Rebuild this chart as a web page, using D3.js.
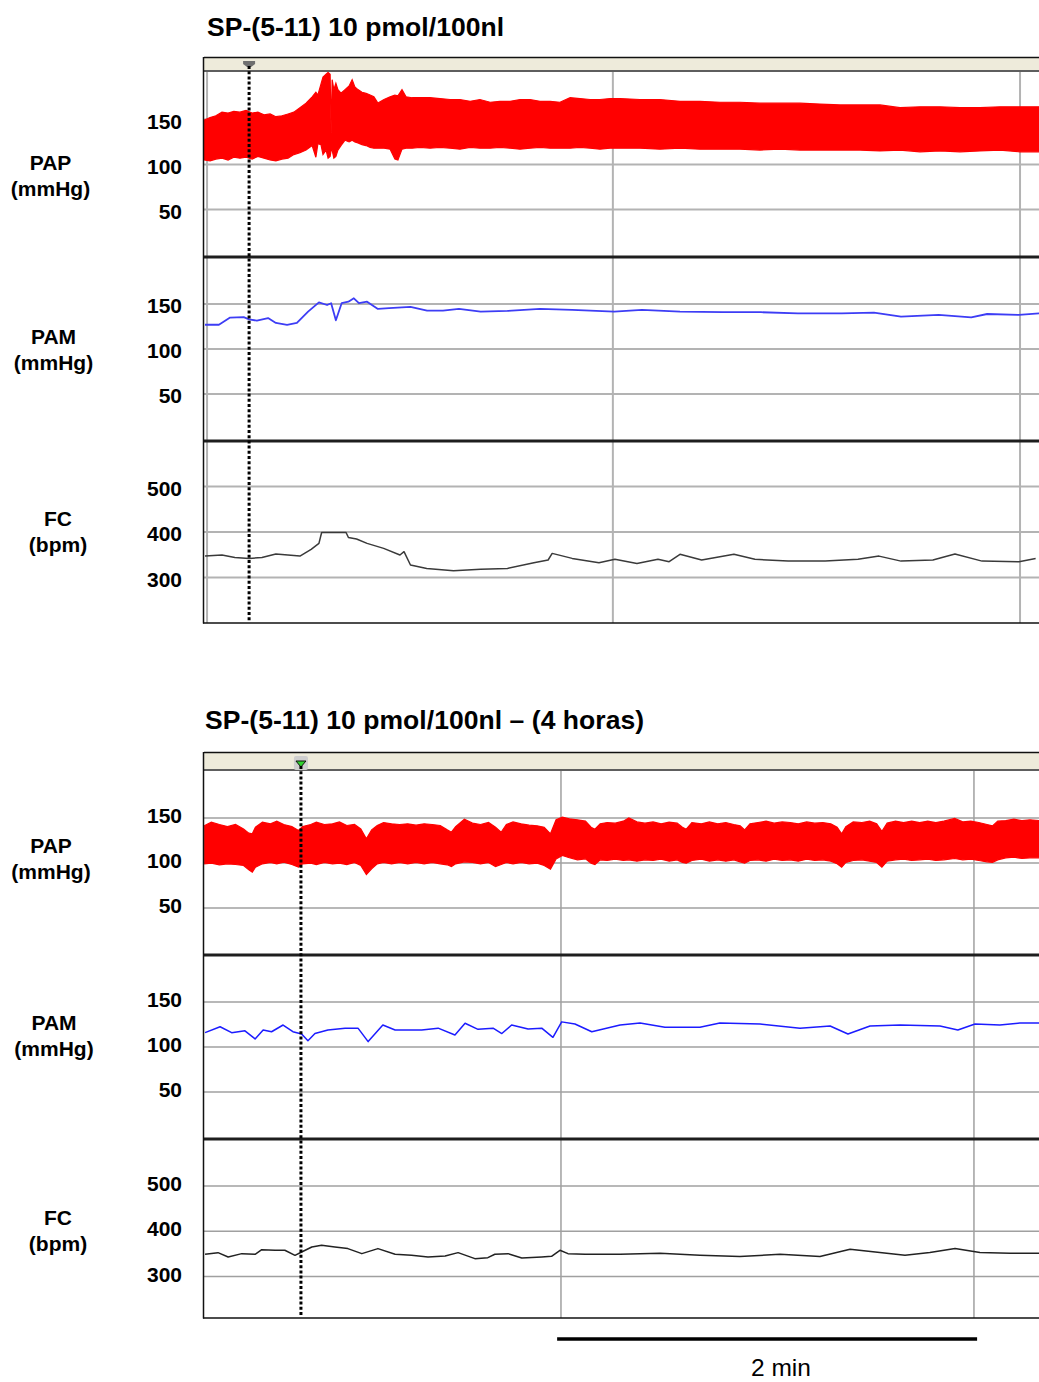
<!DOCTYPE html>
<html>
<head>
<meta charset="utf-8">
<script src="https://cdn.jsdelivr.net/npm/d3@7"></script>
<style>
  body { margin: 0; background: #fff; }
  svg { display: block; }
  text { font-family: "Liberation Sans", Arial, Helvetica, sans-serif; }
</style>
</head>
<body>
<svg id="chart" width="1039" height="1382"></svg>
<script>
// ---------- Recording titles and axis labels ----------
const titles = ["SP-(5-11) 10 pmol/100nl", "SP-(5-11) 10 pmol/100nl \u2013 (4 horas)"];
const stripNames = [["PAP", "(mmHg)"], ["PAM", "(mmHg)"], ["FC", "(bpm)"]];
const pressureTicks = [50, 100, 150];
const rateTicks = [300, 400, 500];
const scaleBarLabel = "2 min";
const scaleBarSeconds = 120;

// ---------- Recording 1 (injection) : time in s ----------
const papTime1 = [0,1.8,3.5,5.3,7.1,8.8,10.6,12.4,14.2,15.9,17.7,19.5,21.2,23.0,24.8,26.5,28.3,30.1,31.9,33.0,33.6,34.5,35.1,36.0,36.6,37.2,37.5,37.8,38.3,38.9,39.5,40.4,41.6,42.8,43.7,44.5,45.4,46.6,47.8,49.0,50.1,51.3,53.1,54.9,56.3,57.2,58.4,59.6,61.4,63.7,66.7,69.6,72.6,75.5,78.5,81.4,84.4,87.3,90.3,93.2,96.2,99.1,102.1,105.0,108.0,110.9,113.9,116.8,119.8,122.7,128.6,134.5,140.4,146.3,152.2,158.1,164.0,169.9,175.8,181.7,187.6,193.5,199.4,205.3,211.2,217.1,223.0,228.9,234.8,240.7,246.6];
const papSys1 = [149,152,154,158,157,159,158,160,157,158,155,156,153,154,156,158,163,168,175,180,177,189,197,200,202,200,135,194,183,190,183,179,183,187,194,186,183,180,179,177,175,168,172,175,177,176,183,175,174,174,174,173,172,172,170,172,169,170,170,172,172,170,170,169,174,173,172,172,173,173,172,172,170,170,169,169,168,168,168,167,166,166,166,163,164,164,163,163,164,164,164];
const papDia1 = [105,104,106,107,105,108,107,108,106,109,107,105,104,106,107,111,113,116,121,108,123,122,111,116,107,109,116,116,107,109,116,121,127,125,127,125,124,122,121,119,118,118,118,117,106,105,117,118,118,119,118,119,118,117,119,118,118,119,118,117,118,119,118,118,118,119,118,117,118,118,118,117,118,117,117,117,116,117,116,116,116,116,115,116,114,115,114,115,116,114,114];

const pamTime1 = [0.3,4.4,7.7,11.7,13.3,15.6,18.9,21.2,24.5,27.4,30.7,33.9,36.3,37.5,38.9,40.6,42.6,44.2,45.7,48.1,51.3,54.6,60.9,65.8,70.5,75.2,81.6,89.5,99.1,108.6,121,129.2,140.4,153.1,164.3,175.2,188.1,197.6,205.6,216.7,226.3,231,240.4,246.6];
const pamValue1 = [127,127,135,135.5,133,131.6,134.5,129,127,129,141.6,152,149,151,132,151,152.7,156.5,151,152.7,144.6,145.6,147,142.7,142.7,144.6,141.6,142.4,144.6,143.5,141.6,143.5,141.6,141,141,139.8,139.8,140.5,136,138,135.3,139,138,139.8];

const fcTime1 = [0.3,5.3,9.1,13.3,17.1,21.2,28.3,31.6,33.9,34.7,41.9,42.6,45,48.1,53,57.8,59,60.9,65.7,73.6,81.6,89.5,97.3,101.5,102.7,108.6,116.5,121.2,127.7,133.9,137.2,140.4,146.8,156.3,162.5,172.3,183.2,192.9,199.1,205.6,215,221.5,229.5,240.4,245.3];
const fcValue1 = [347,349.5,344,342,344,351.6,347,362,375,399,399,388,384.6,375,364,349.5,356.7,327.5,320,315,318,320,332.5,338.5,353,342,332.5,340,331,340,334.7,351,338.5,351,340,336,336,340,347,336,338.5,351.6,336,334.7,342];

const gridTime1 = [0.9, 120.6, 240.7];
const markerTime1 = 13.3;

// ---------- Recording 2 (4 h later) : time in s ----------
const papTime2 = [0.2,2.1,4.4,6.7,9.0,11.3,12.8,13.8,14.7,16.7,19.0,20.8,22.8,25.1,27.0,28.2,30.5,32.1,34.4,36.7,38.7,40.8,43.0,44.8,46.4,47.9,49.5,51.3,53.6,55.9,58.2,60.6,62.9,65.2,67.5,69.5,70.7,71.9,74.4,76.7,79.0,81.3,83.3,84.9,86.4,88.3,90.6,92.9,95.2,97.2,99.0,100.6,102.4,104.4,106.7,109.0,110.6,111.7,113.2,115.2,117.5,119.8,121.4,123.7,126.0,128.3,130.6,132.9,135.2,136.7,137.8,139.4,142.1,144.4,146.8,149.1,151.4,153.2,154.5,156.0,158.3,160.6,162.9,165.2,167.5,169.8,172.2,174.5,176.8,179.1,180.9,182.2,183.4,185.5,188.0,190.2,192.2,193.7,195.2,197.6,199.9,202.2,204.5,206.8,209.1,211.4,214.5,216.8,219.1,221.4,223.7,225.3,226.8,229.1,231.4,233.7,236.0,238.8];
const papSys2 = [141.8,145.5,142.9,140.6,142.9,138.0,133.2,132.5,139.9,145.5,143.6,146.6,142.9,140.6,136.2,140.6,142.9,145.5,142.9,143.6,145.8,141.8,142.9,138.0,126.9,136.9,141.8,145.1,143.6,142.9,143.6,142.1,143.6,142.9,141.8,136.9,134.3,140.6,148.8,144.4,142.9,145.1,139.9,134.3,142.9,145.8,143.6,142.1,141.4,139.9,132.5,148.1,151.0,149.2,148.1,146.6,139.9,137.7,143.6,145.1,144.4,146.6,150.3,145.8,144.4,145.8,143.6,145.5,144.4,139.9,137.7,145.1,143.6,145.8,143.6,145.1,142.9,141.4,136.9,143.6,145.1,146.6,144.4,145.8,145.1,143.6,145.8,144.4,145.1,143.6,139.9,132.5,140.6,145.8,145.1,146.6,143.6,135.4,144.4,146.6,145.1,146.6,145.1,146.6,145.1,146.6,149.6,145.8,146.6,145.1,142.9,141.4,146.6,147.3,148.8,147.3,148.1,147.3];
const papDia2 = [99.1,99.8,98.0,99.1,98.3,97.2,92.4,89.8,95.4,99.1,100.6,99.1,100.9,98.3,95.4,99.1,99.8,98.3,100.6,99.1,99.8,98.3,100.6,97.2,87.2,93.5,99.1,100.6,99.1,100.6,99.1,100.6,99.1,100.6,99.1,98.0,96.1,99.1,101.3,100.6,99.1,100.6,96.1,98.3,100.6,99.1,100.6,99.1,99.8,97.2,93.1,104.6,108.4,105.8,103.5,104.6,99.8,98.3,103.5,102.8,104.3,102.8,103.5,102.0,103.5,102.8,104.3,102.0,103.5,100.6,99.8,102.8,104.3,102.0,103.5,102.0,103.5,101.3,99.8,102.8,103.5,102.0,104.3,102.8,103.5,102.0,104.3,102.8,103.5,102.0,99.1,95.4,100.6,102.8,103.5,102.0,100.6,95.4,102.0,103.5,104.3,102.8,103.5,104.3,102.8,103.5,105.0,103.5,104.3,102.8,101.3,100.6,103.5,105.8,106.5,105.0,105.8,105.8];

const pamTime2 = [0.3,4.6,7.9,11.7,14.6,16.9,19.3,22.6,25.4,27.9,29.7,31.7,35.4,40.3,44,46.9,51.1,54.6,62.2,66.9,71.7,74.6,78.3,82.6,85.1,87.9,92.6,96.5,99.7,102.2,106,110.8,118.9,124.6,131.7,141.7,147.4,158.9,170.3,178.9,184,190.3,198.9,210.3,215.4,220.3,227.4,233.1,238.6];
const pamValue2 = [116,122.6,116,118,109,119,117,124.5,117,114.5,107,115,119,120.8,121,106,124.5,119,119,121,113.4,126.4,119.7,121,115,124.5,120,121,110.8,128,125.6,117,124.5,126.7,122,122,126.7,125.6,121,123.4,114.5,123.4,124.5,123.4,119,125.6,124.5,126.7,126.7];

const fcTime2 = [0.3,4,6.9,10.8,14.6,16.5,20.3,23.1,26,27.9,30.8,33.6,37.4,41.1,45.1,49.7,54.6,59.3,64,68.9,72.6,77.4,81.1,83.1,86.9,90.8,96.5,99.3,101.7,104,108.9,118.9,130.3,141.7,153.1,164.6,176,184.6,193.1,200.3,207.4,214.6,221.7,230.3,238.6];
const fcValue2 = [349,352.6,343,350.4,349,359,358,357.8,346.7,354,365,369,365,361.5,350.4,361.5,349,346.7,343,345,352.6,339.3,341.5,349,350.4,340.7,343,344.4,357.8,350.4,349,349,351,347,344,349,344,360,353,347,353,362,353,351,351];

const gridTime2 = [102, 220];
const markerTime2 = 27.7;
const scaleBarStart2 = 100.9;

// ---------- Layout ----------
const plotLeft = 204, plotRight = 1045;
const pressureDomain = [-2.5, 202.5];

const panels = [
  {
    title: titles[0], titleX: 207, titleY: 36,
    boxTop: 57, headerBottom: 72,
    strips: [[72, 257], [257, 441], [441, 623]],
    xDomain: [0, 246], rateDomain: [200, 600],
    labelY: [163, 337, 519], labelX: [50.5, 53.5, 58], tickShift: 2,
    pap: { t: papTime1, sys: papSys1, dia: papDia1 },
    pam: { t: pamTime1, v: pamValue1 },
    fc: { t: fcTime1, v: fcValue1 },
    grid: gridTime1, marker: markerTime1, markerStyle: "grey",
    gridColor: "#b3b3b3", gridWidth: 2, pamColor: "#3d3df5", pamWidth: 1.8, fcColor: "#3a3a3a"
  },
  {
    title: titles[1], titleX: 205, titleY: 729,
    boxTop: 752, headerBottom: 771,
    strips: [[771, 955], [955, 1139], [1139, 1318]],
    xDomain: [0, 238.3], rateDomain: [208, 604],
    labelY: [846, 1023, 1218], labelX: [51, 54, 58], tickShift: -2,
    pap: { t: papTime2, sys: papSys2, dia: papDia2 },
    pam: { t: pamTime2, v: pamValue2 },
    fc: { t: fcTime2, v: fcValue2 },
    grid: gridTime2, marker: markerTime2, markerStyle: "green",
    gridColor: "#a0a0a0", gridWidth: 1.5, pamColor: "#1c1cff", pamWidth: 1.5, fcColor: "#222",
    scaleBar: { start: scaleBarStart2, y: 1339, textX: 781, textY: 1376 }
  }
];

const svg = d3.select("#chart");
svg.append("rect").attr("width", 1039).attr("height", 1382).attr("fill", "#fff");
const defs = svg.append("defs");

panels.forEach((p, pi) => {
  const x = d3.scaleLinear().domain(p.xDomain).range([plotLeft, 1038]);
  const g = svg.append("g");
  const bottom = p.strips[2][1];

  // title
  g.append("text")
    .attr("x", p.titleX).attr("y", p.titleY)
    .attr("font-size", 26.5).attr("font-weight", "bold").attr("letter-spacing", 0.05)
    .attr("fill", "#000").text(p.title);

  // header strip of the recorder window
  g.append("rect").attr("x", plotLeft).attr("y", p.boxTop)
    .attr("width", plotRight - plotLeft).attr("height", p.headerBottom - p.boxTop)
    .attr("fill", "#eeebdb");
  g.append("line").attr("x1", plotLeft).attr("x2", plotRight)
    .attr("y1", p.boxTop + 0.5).attr("y2", p.boxTop + 0.5)
    .attr("stroke", "#111").attr("stroke-width", 1.5);
  g.append("line").attr("x1", plotLeft).attr("x2", plotRight)
    .attr("y1", p.headerBottom - 1).attr("y2", p.headerBottom - 1)
    .attr("stroke", "#5e5e5e").attr("stroke-width", 2);

  // strips
  p.strips.forEach(([top, bot], si) => {
    const isRate = si === 2;
    const y = d3.scaleLinear().domain(isRate ? p.rateDomain : pressureDomain).range([bot, top]);
    const ticks = isRate ? rateTicks : pressureTicks;
    const clipId = `clip-${pi}-${si}`;
    defs.append("clipPath").attr("id", clipId)
      .append("rect").attr("x", plotLeft).attr("y", top)
      .attr("width", plotRight - plotLeft).attr("height", bot - top);

    const sg = g.append("g");
    // horizontal grid
    sg.selectAll(null).data(ticks).join("line")
      .attr("x1", plotLeft).attr("x2", plotRight)
      .attr("y1", d => y(d)).attr("y2", d => y(d))
      .attr("stroke", p.gridColor).attr("stroke-width", p.gridWidth);
    // vertical grid
    sg.selectAll(null).data(p.grid).join("line")
      .attr("x1", d => x(d)).attr("x2", d => x(d))
      .attr("y1", top).attr("y2", bot)
      .attr("stroke", p.gridColor).attr("stroke-width", p.gridWidth);

    // tick labels
    const axis = d3.axisLeft(y).tickValues(ticks).tickSize(0).tickPadding(0);
    const ag = g.append("g").attr("transform", `translate(182,${p.tickShift})`).call(axis);
    ag.select(".domain").remove();
    ag.attr("font-family", null).attr("font-size", null);
    ag.selectAll("text").attr("font-size", 21).attr("font-weight", "bold").attr("fill", "#000");

    // strip name
    const nm = g.append("text").attr("text-anchor", "middle")
      .attr("font-size", 21).attr("font-weight", "bold").attr("fill", "#000");
    nm.append("tspan").attr("x", p.labelX[si]).attr("y", p.labelY[si]).attr("dy", "0.35em").text(stripNames[si][0]);
    nm.append("tspan").attr("x", p.labelX[si]).attr("y", p.labelY[si] + 26).attr("dy", "0.35em").text(stripNames[si][1]);

    const dg = sg.append("g").attr("clip-path", `url(#${clipId})`);
    if (si === 0) {
      const d = p.pap;
      const area = d3.area()
        .x(i => x(d.t[i])).y0(i => y(d.dia[i])).y1(i => y(d.sys[i]));
      dg.append("path").attr("d", area(d3.range(d.t.length)))
        .attr("fill", "#ff0000").attr("stroke", "#ff0000").attr("stroke-width", 1.2)
        .attr("stroke-linejoin", "miter");
    } else {
      const d = si === 1 ? p.pam : p.fc;
      const line = d3.line().x(i => x(d.t[i])).y(i => y(d.v[i]));
      dg.append("path").attr("d", line(d3.range(d.t.length)))
        .attr("fill", "none")
        .attr("stroke", si === 1 ? p.pamColor : p.fcColor)
        .attr("stroke-width", si === 1 ? p.pamWidth : 1.5)
        .attr("stroke-linejoin", "round");
    }
  });

  // strip separators
  [p.strips[1][0], p.strips[2][0]].forEach(yy => {
    g.append("line").attr("x1", plotLeft).attr("x2", plotRight)
      .attr("y1", yy).attr("y2", yy).attr("stroke", "#1e1e1e").attr("stroke-width", 3);
  });
  // outer frame (left + bottom)
  g.append("line").attr("x1", plotLeft - 0.5).attr("x2", plotLeft - 0.5)
    .attr("y1", p.boxTop).attr("y2", bottom + 0.5).attr("stroke", "#111").attr("stroke-width", 1.5);
  g.append("line").attr("x1", plotLeft - 1).attr("x2", plotRight)
    .attr("y1", bottom).attr("y2", bottom).attr("stroke", "#111").attr("stroke-width", 1.5);

  // event marker
  const mx = x(p.marker);
  if (p.markerStyle === "grey") {
    g.append("path")
      .attr("d", `M${mx - 6},${p.boxTop + 4}h12v3l-4,3h-4l-4,-3z`)
      .attr("fill", "#6f6f6f");
  } else {
    g.append("rect").attr("x", mx - 7).attr("y", p.boxTop + 4).attr("width", 14).attr("height", 14)
      .attr("rx", 2).attr("fill", "#cfcfcf");
    g.append("path").attr("d", `M${mx - 5},${p.boxTop + 9}h10l-5,6z`)
      .attr("fill", "#2fd12f").attr("stroke", "#111").attr("stroke-width", 1);
  }
  g.append("line").attr("x1", mx).attr("x2", mx)
    .attr("y1", p.boxTop + (p.markerStyle === "grey" ? 9 : 14)).attr("y2", bottom - 2)
    .attr("stroke", "#000").attr("stroke-width", 3).attr("stroke-dasharray", "3,2.2");

  // scale bar
  if (p.scaleBar) {
    const x0 = x(p.scaleBar.start), x1 = x(p.scaleBar.start + scaleBarSeconds);
    g.append("line").attr("x1", x0).attr("x2", x1)
      .attr("y1", p.scaleBar.y).attr("y2", p.scaleBar.y)
      .attr("stroke", "#000").attr("stroke-width", 3.5);
    g.append("text").attr("x", p.scaleBar.textX).attr("y", p.scaleBar.textY)
      .attr("text-anchor", "middle").attr("font-size", 24.5).attr("fill", "#000")
      .text(scaleBarLabel);
  }
});
</script>
</body>
</html>
